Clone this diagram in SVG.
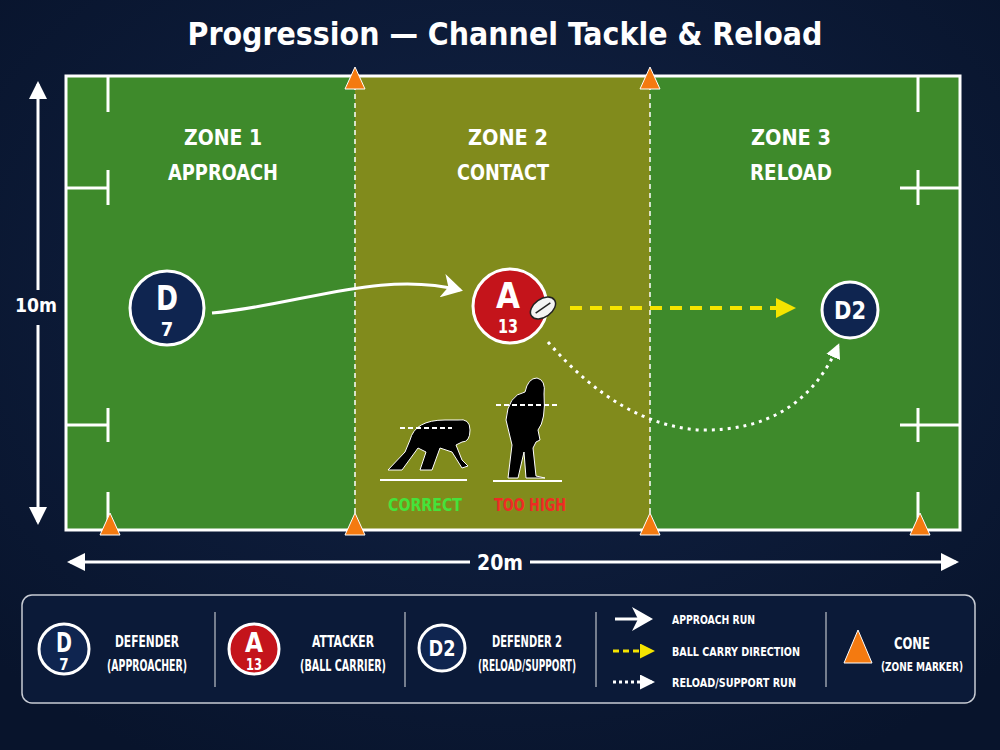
<svg xmlns="http://www.w3.org/2000/svg" width="1000" height="750" viewBox="0 0 1000 750">
<defs>
<style>
text{font-family:"DejaVu Sans Condensed","DejaVu Sans",sans-serif;font-weight:bold;fill:#fff;text-anchor:middle}
.ln{stroke:#fff;stroke-width:3;fill:none}
.cone{fill:#f47a10;stroke:#fff;stroke-width:1}
.navy{fill:#0f2550;stroke:#fff;stroke-width:3}
.red{fill:#c4141b;stroke:#fff;stroke-width:3}
.sil{fill:#000;stroke:#fff;stroke-width:1}
</style>
<radialGradient id="bg" cx="50%" cy="40%" r="70%"><stop offset="0" stop-color="#122346"/><stop offset="1" stop-color="#08142c"/></radialGradient>
<marker id="aw" markerWidth="8" markerHeight="8" refX="6" refY="4" orient="auto" markerUnits="strokeWidth"><path d="M0,0 L7,4 L0,8 L2,4z" fill="#fff"/></marker>
<marker id="ay" markerWidth="5" markerHeight="5" refX="4" refY="2.5" orient="auto" markerUnits="strokeWidth"><path d="M0,0 L5,2.5 L0,5z" fill="#f5e400"/></marker>
<marker id="ad" markerWidth="5" markerHeight="5" refX="4" refY="2.5" orient="auto" markerUnits="strokeWidth"><path d="M0,0 L5,2.5 L0,5z" fill="#fff"/></marker>
<marker id="dim" markerWidth="6" markerHeight="6" refX="5" refY="3" orient="auto" markerUnits="strokeWidth"><path d="M0,0 L6,3 L0,6z" fill="#fff"/></marker>
</defs>
<rect width="1000" height="750" fill="url(#bg)"/>
<text x="505" y="45" font-size="32" textLength="635" lengthAdjust="spacingAndGlyphs">Progression — Channel Tackle &amp; Reload</text>
<g id="field">
<rect x="66" y="76" width="894" height="454" fill="#3e8a2b"/>
<rect x="355" y="76" width="295" height="454" fill="#818b1c"/>
<rect x="66" y="76" width="894" height="454" class="ln"/>
<line x1="355" y1="76" x2="355" y2="530" stroke="#fff" stroke-width="1.5" stroke-dasharray="5,4"/>
<line x1="650" y1="76" x2="650" y2="530" stroke="#fff" stroke-width="1.5" stroke-dasharray="5,4"/>
<g class="ln" stroke-width="2">
<path d="M108 76V112M66 188H108M108 170V205M66 425H108M108 408V442M108 492V530"/>
<path d="M918 76V112M900 188H960M918 170V205M900 425H960M918 408V442M918 492V530"/>
</g>
</g>
<g id="cones">
<polygon class="cone" points="355,67 345,89 365,89"/>
<polygon class="cone" points="650,67 640,89 660,89"/>
<polygon class="cone" points="110,513 100,535 120,535"/>
<polygon class="cone" points="355,513 345,535 365,535"/>
<polygon class="cone" points="650,513 640,535 660,535"/>
<polygon class="cone" points="920,513 910,535 930,535"/>
</g>
<g id="zones" font-size="22">
<text x="223" y="145" textLength="78" lengthAdjust="spacingAndGlyphs">ZONE 1</text><text x="223" y="180" textLength="110" lengthAdjust="spacingAndGlyphs">APPROACH</text>
<text x="508" y="145" textLength="80" lengthAdjust="spacingAndGlyphs">ZONE 2</text><text x="503" y="180" textLength="92" lengthAdjust="spacingAndGlyphs">CONTACT</text>
<text x="791" y="145" textLength="80" lengthAdjust="spacingAndGlyphs">ZONE 3</text><text x="791" y="180" textLength="82" lengthAdjust="spacingAndGlyphs">RELOAD</text>
</g>
<g id="connectors">
<path d="M212 313 C300 305 380 270 460 290" class="ln" stroke-width="4" marker-end="url(#aw)"/>
<line x1="570" y1="308" x2="792" y2="308" stroke="#f5e400" stroke-width="4" stroke-dasharray="12,8" marker-end="url(#ay)"/>
<path d="M548 342 Q620 425 700 430 Q800 432 838 346" fill="none" stroke="#fff" stroke-width="3" stroke-dasharray="3,5" marker-end="url(#ad)"/>
<line x1="38" y1="290" x2="38" y2="84" class="ln" stroke-width="2" marker-end="url(#dim)"/>
<line x1="38" y1="325" x2="38" y2="522" class="ln" stroke-width="2" marker-end="url(#dim)"/>
<line x1="470" y1="562" x2="70" y2="562" class="ln" stroke-width="2" marker-end="url(#dim)"/>
<line x1="530" y1="562" x2="956" y2="562" class="ln" stroke-width="2" marker-end="url(#dim)"/>
<text x="36" y="312" font-size="20" textLength="42" lengthAdjust="spacingAndGlyphs">10m</text>
<text x="500" y="570" font-size="22" textLength="46" lengthAdjust="spacingAndGlyphs">20m</text>
</g>
<g id="D7"><circle cx="167" cy="308" r="37" class="navy"/><text x="167" y="310" font-size="34" textLength="22" lengthAdjust="spacingAndGlyphs">D</text><text x="167" y="336" font-size="20">7</text></g>
<g id="A13"><circle cx="510" cy="306" r="37" class="red"/><text x="508" y="308" font-size="36" textLength="24" lengthAdjust="spacingAndGlyphs">A</text><text x="508" y="333" font-size="20" textLength="20" lengthAdjust="spacingAndGlyphs">13</text>
<g transform="translate(543,308) rotate(-35)"><ellipse rx="14" ry="9" fill="#f4f4f4" stroke="#222" stroke-width="1.5"/><line x1="-9" y1="0" x2="9" y2="0" stroke="#222" stroke-width="1.5"/></g></g>
<g id="D2"><circle cx="850" cy="310" r="28" class="navy"/><text x="850" y="319" font-size="25" textLength="32" lengthAdjust="spacingAndGlyphs">D2</text></g>
<g id="figures">
<path class="sil" d="M388 470 L405 452 L410 440 Q415 420 445 420 L458 420 Q470 418 470 430 Q470 442 462 442 L456 445 L462 460 L468 466 L462 468 L452 452 L440 448 L432 470 L420 470 L426 452 L418 448 L402 470 Z"/>
<line x1="400" y1="428" x2="452" y2="428" stroke="#fff" stroke-width="2" stroke-dasharray="5,3"/>
<line x1="380" y1="480" x2="467" y2="480" stroke="#fff" stroke-width="2"/>
<path class="sil" d="M508 478 L512 445 L506 420 Q508 395 525 392 Q528 378 537 378 Q546 380 544 394 Q546 420 538 430 L540 440 L536 442 L533 448 L536 476 L545 478 L526 478 L524 452 L518 478 Z"/>
<line x1="496" y1="405" x2="557" y2="405" stroke="#fff" stroke-width="2" stroke-dasharray="5,3"/>
<line x1="493" y1="481" x2="562" y2="481" stroke="#fff" stroke-width="2"/>
<text x="425" y="511" font-size="18" textLength="74" lengthAdjust="spacingAndGlyphs" style="fill:#45e23a">CORRECT</text>
<text x="530" y="511" font-size="18" textLength="72" lengthAdjust="spacingAndGlyphs" style="fill:#ee2b24">TOO HIGH</text>
</g>
<g id="legend">
<rect x="22" y="595" width="953" height="108" rx="10" fill="#0b1a38" stroke="#c8ccd4" stroke-width="1.5"/>
<g stroke="#9aa0ab" stroke-width="1.5"><line x1="215" y1="612" x2="215" y2="687"/><line x1="405" y1="612" x2="405" y2="687"/><line x1="596" y1="612" x2="596" y2="687"/><line x1="826" y1="612" x2="826" y2="687"/></g>
<circle cx="64" cy="649" r="25" class="navy"/><text x="64" y="652" font-size="26" textLength="16" lengthAdjust="spacingAndGlyphs">D</text><text x="64" y="670" font-size="15">7</text>
<text x="147" y="647" font-size="15" textLength="64" lengthAdjust="spacingAndGlyphs">DEFENDER</text><text x="147" y="671" font-size="15" textLength="80" lengthAdjust="spacingAndGlyphs">(APPROACHER)</text>
<circle cx="254" cy="649" r="25" class="red"/><text x="254" y="652" font-size="26" textLength="18" lengthAdjust="spacingAndGlyphs">A</text><text x="254" y="670" font-size="15" textLength="16" lengthAdjust="spacingAndGlyphs">13</text>
<text x="343" y="647" font-size="15" textLength="62" lengthAdjust="spacingAndGlyphs">ATTACKER</text><text x="343" y="671" font-size="15" textLength="86" lengthAdjust="spacingAndGlyphs">(BALL CARRIER)</text>
<circle cx="442" cy="648" r="23" class="navy"/><text x="442" y="656" font-size="22" textLength="27" lengthAdjust="spacingAndGlyphs">D2</text>
<text x="527" y="647" font-size="15" textLength="70" lengthAdjust="spacingAndGlyphs">DEFENDER 2</text><text x="527" y="671" font-size="15" textLength="98" lengthAdjust="spacingAndGlyphs">(RELOAD/SUPPORT)</text>
<line x1="615" y1="619" x2="650" y2="619" class="ln" stroke-width="3" marker-end="url(#aw)"/>
<line x1="613" y1="651" x2="652" y2="651" stroke="#f5e400" stroke-width="3" stroke-dasharray="6,4" marker-end="url(#ay)"/>
<line x1="613" y1="682" x2="652" y2="682" stroke="#fff" stroke-width="3" stroke-dasharray="3,3" marker-end="url(#ad)"/>
<text x="672" y="624" font-size="13" style="text-anchor:start" textLength="83" lengthAdjust="spacingAndGlyphs">APPROACH RUN</text><text x="672" y="656" font-size="13" style="text-anchor:start" textLength="128" lengthAdjust="spacingAndGlyphs">BALL CARRY DIRECTION</text><text x="672" y="687" font-size="13" style="text-anchor:start" textLength="124" lengthAdjust="spacingAndGlyphs">RELOAD/SUPPORT RUN</text>
<polygon class="cone" points="858,630 844,663 872,663"/>
<text x="912" y="649" font-size="16" textLength="36" lengthAdjust="spacingAndGlyphs">CONE</text><text x="922" y="671" font-size="13" textLength="82" lengthAdjust="spacingAndGlyphs">(ZONE MARKER)</text>
</g>
</svg>
